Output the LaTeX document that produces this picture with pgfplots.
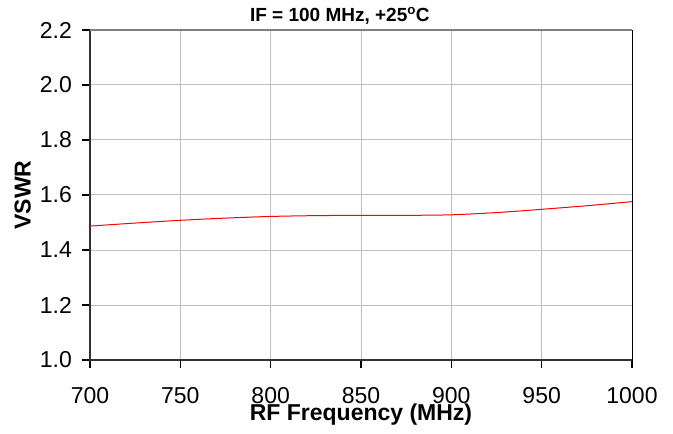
\documentclass[border=0pt]{standalone}
\usepackage{pgfplots}
\pgfplotsset{compat=1.18}
\usepackage{fontspec}
\setmainfont{Liberation Sans}

\definecolor{gridgray}{RGB}{192,192,192}
\definecolor{axisdark}{RGB}{50,50,50}

\begin{document}
\begin{tikzpicture}[x=1bp,y=1bp]
\begin{axis}[
	at={(0,0)}, anchor=south west,
	scale only axis,
	width=542bp, height=330bp,
	xmin=700, xmax=1000,
	ymin=1.0, ymax=2.2,
	xtick={700,750,...,1000},
	ytick={1.0,1.2,...,2.2},
	xtick pos=bottom, ytick pos=left,
	/pgf/number format/assume math mode=true,
	/pgf/number format/1000 sep={},
	yticklabel style={/pgf/number format/fixed, /pgf/number format/fixed zerofill, /pgf/number format/precision=1},
	scaled ticks=false,
	grid=major,
	major grid style={line width=1bp, draw=gridgray},
	tick align=outside,
	major tick length=8bp,
	tick style={line width=1.2bp, black},
	axis line style={draw=none},
	tick label style={font=\fontsize{23bp}{26bp}\selectfont},
	xticklabel style={anchor=center, yshift=-28bp, inner sep=0pt},
	yticklabel style={anchor=east, xshift=-10bp, inner sep=0pt},
	xlabel={\bfseries RF Frequency (MHz)},
	ylabel={\bfseries VSWR},
	label style={font=\fontsize{23bp}{26bp}\selectfont},
	xlabel style={at={(axis description cs:0.5,-0.166)}, anchor=center, inner sep=0pt},
	ylabel style={at={(axis description cs:-0.124,0.5)}, anchor=center, inner sep=0pt},
	clip=false,
]
% frame: left and bottom dark, top gray, right thin black
\draw[line width=2bp, axisdark] (rel axis cs:0,1) -- (rel axis cs:0,0) -- (rel axis cs:1,0);
\draw[line width=2bp, gray] (rel axis cs:0,1) -- (rel axis cs:1,1);
\draw[line width=1bp, black] (rel axis cs:1,1) -- (rel axis cs:1,0);

\addplot[red, line width=1bp, smooth, tension=0.5] coordinates {
	(700,1.487) (725,1.498) (750,1.508) (775,1.516) (800,1.522)
	(825,1.525) (850,1.526) (875,1.526) (900,1.528) (925,1.536)
	(950,1.548) (975,1.561) (1000,1.576)
};

\node[font=\bfseries\fontsize{19bp}{22bp}\selectfont, anchor=center]
	at (rel axis cs:0.461,1.042) {IF = 100 MHz, +25\textsuperscript{o}C};
\end{axis}
\pgfresetboundingbox
\path[use as bounding box] (-90bp,-74bp) rectangle (583bp,360bp);
\end{tikzpicture}
\end{document}
